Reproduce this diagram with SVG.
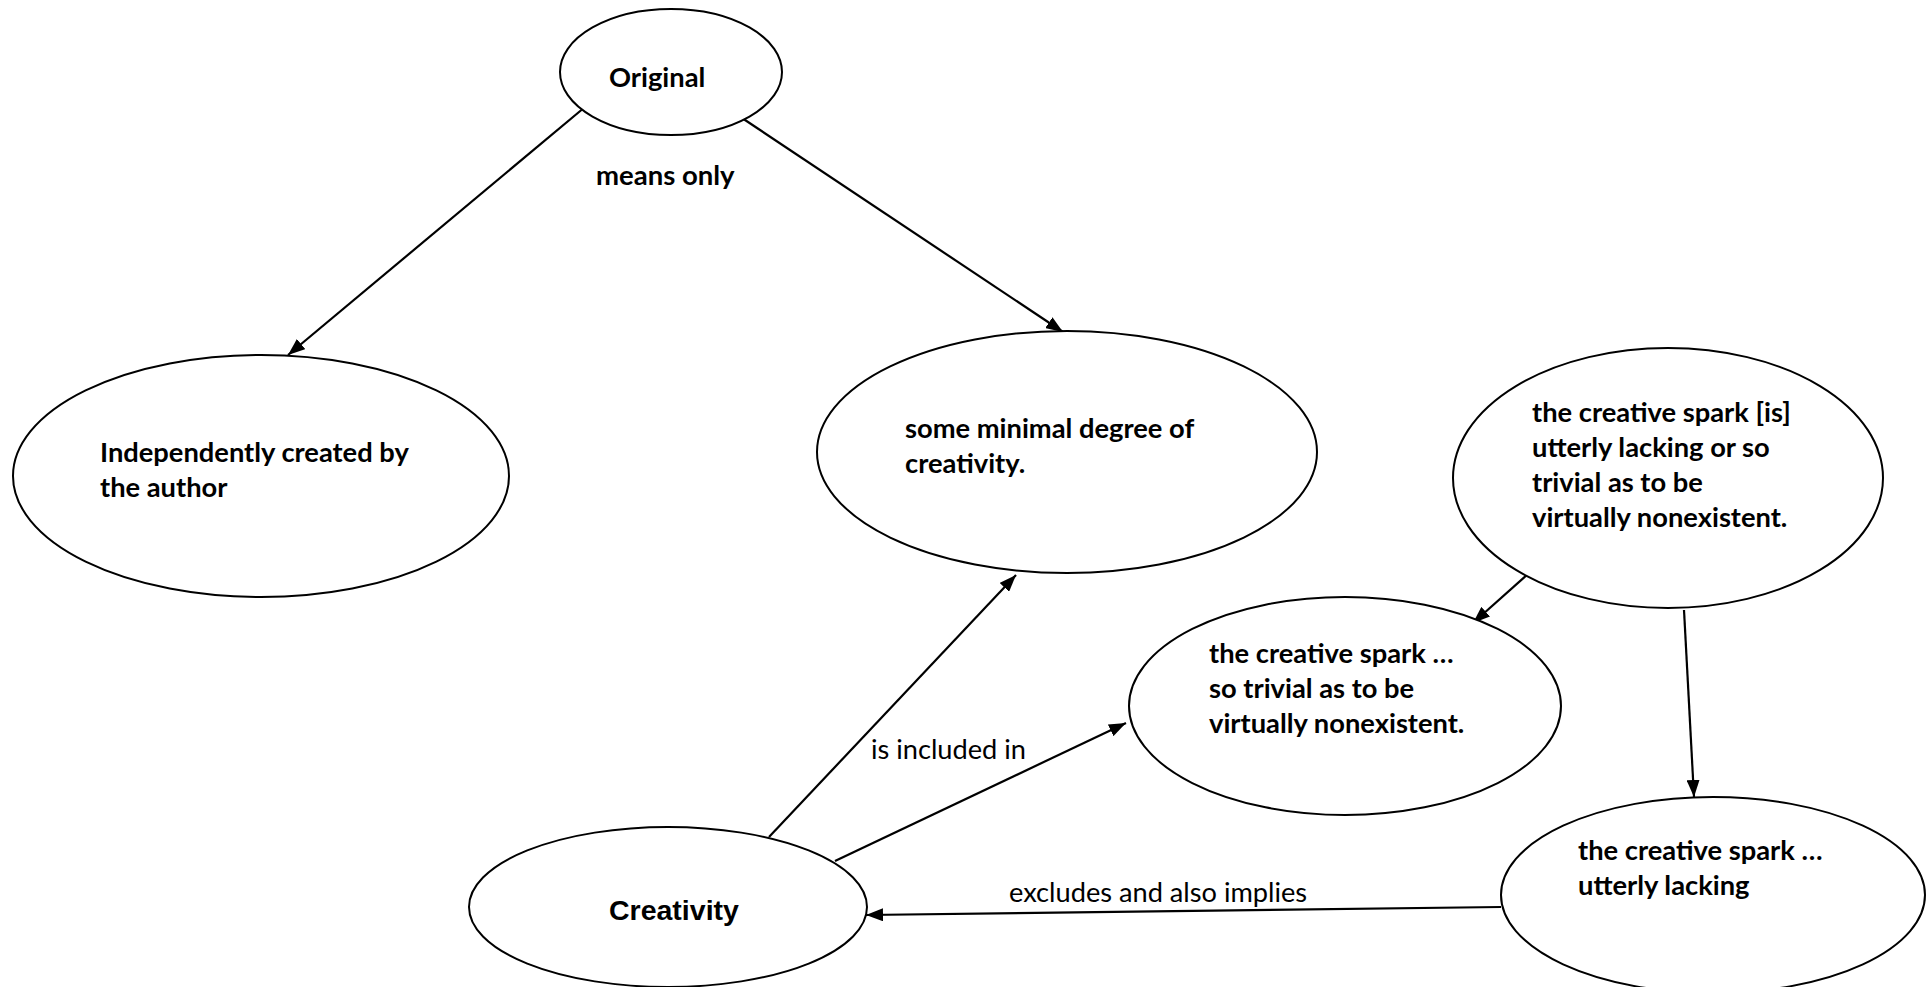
<svg xmlns="http://www.w3.org/2000/svg" width="1927" height="987" viewBox="0 0 1927 987">
<style>
.node ellipse{fill:#fff;stroke:#000;stroke-width:2}
.t{font-family:Lato,"Open Sans",sans-serif;font-weight:bold;font-size:27.3px;fill:#000}
.lbl{font-family:Lato,"Open Sans",sans-serif;font-size:27.2px;fill:#000}
.lblb{font-family:Lato,"Open Sans",sans-serif;font-weight:bold;font-size:27.5px;fill:#000}
.ar{font-family:"Liberation Sans",Arial,sans-serif;font-weight:bold;font-size:28.5px;fill:#000}
.edge line{stroke:#000;stroke-width:2.2;fill:none}
</style>
<defs>
<marker id="ah" viewBox="0 0 17 13" refX="17" refY="6.5" markerWidth="17" markerHeight="13" markerUnits="userSpaceOnUse" orient="auto">
<path d="M0,0 L17,6.5 L0,13 z" fill="#000"/>
</marker>
</defs>
<rect width="1927" height="987" fill="#fff"/>
<g id="connectors" class="edge">
<line x1="585" y1="107" x2="288" y2="355" marker-end="url(#ah)"/>
<line x1="742" y1="118" x2="1063" y2="332" marker-end="url(#ah)"/>
<line x1="769" y1="837" x2="1016" y2="575" marker-end="url(#ah)"/>
<line x1="835" y1="861" x2="1126" y2="723" marker-end="url(#ah)"/>
<line x1="1528" y1="574" x2="1473" y2="623" marker-end="url(#ah)"/>
<line x1="1684" y1="610" x2="1694" y2="797" marker-end="url(#ah)"/>
<line x1="1501" y1="907" x2="866" y2="915" marker-end="url(#ah)"/>
</g>
<g id="labels">
<text class="lblb" x="596" y="185">means only</text>
<text class="lbl" x="871" y="759">is included in</text>
<text class="lbl" x="1009" y="902">excludes and also implies</text>
</g>
<g id="node-original" class="node">
<ellipse cx="671" cy="72" rx="111" ry="63"/>
<text class="t" x="609" y="87">Original</text>
</g>
<g id="node-independently" class="node">
<ellipse cx="261" cy="476" rx="248" ry="121"/>
<text class="t" x="100" y="462">Independently created by</text>
<text class="t" x="100" y="497">the author</text>
</g>
<g id="node-minimal" class="node">
<ellipse cx="1067" cy="452" rx="250" ry="121"/>
<text class="t" x="905" y="438">some minimal degree of</text>
<text class="t" x="905" y="473">creativity.</text>
</g>
<g id="node-spark-either" class="node">
<ellipse cx="1668" cy="478" rx="215" ry="130"/>
<text class="t" x="1532" y="422">the creative spark [is]</text>
<text class="t" x="1532" y="457">utterly lacking or so</text>
<text class="t" x="1532" y="492">trivial as to be</text>
<text class="t" x="1532" y="527">virtually nonexistent.</text>
</g>
<g id="node-spark-trivial" class="node">
<ellipse cx="1345" cy="706" rx="216" ry="109"/>
<text class="t" x="1209" y="663">the creative spark …</text>
<text class="t" x="1209" y="698">so trivial as to be</text>
<text class="t" x="1209" y="733">virtually nonexistent.</text>
</g>
<g id="node-spark-lacking" class="node">
<ellipse cx="1713" cy="895" rx="212" ry="98"/>
<text class="t" x="1578" y="860">the creative spark …</text>
<text class="t" x="1578" y="895">utterly lacking</text>
</g>
<g id="node-creativity" class="node">
<ellipse cx="668" cy="907" rx="199" ry="80"/>
<text class="ar" x="609" y="920">Creativity</text>
</g>
</svg>
